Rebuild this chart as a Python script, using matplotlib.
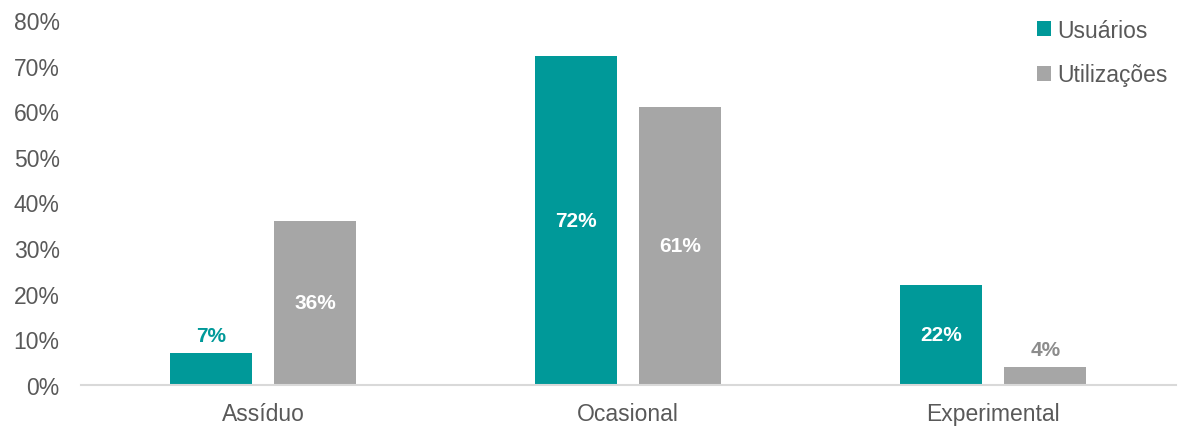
import numpy as np
import matplotlib
matplotlib.use("Agg")
from matplotlib import pyplot as plt

plt.rcParams['font.family'] = ['Liberation Sans', 'DejaVu Sans']

categorias = ["Assíduo", "Ocasional", "Experimental"]
usuarios = [7, 72, 22]
utilizacoes = [36, 61, 4]
series_nomes = ["Usuários", "Utilizações"]

teal = "#009999"
cinza = "#A6A6A6"
texto = "#595959"

fig = plt.figure(figsize=(11.85, 4.27), dpi=100)
ax = fig.add_axes([0.068, 0.096, 0.924, 0.855])

x = np.arange(len(categorias))
w = 0.225
off = 0.143
b1 = ax.bar(x - off, usuarios, w, color=teal, label=series_nomes[0])
b2 = ax.bar(x + off, utilizacoes, w, color=cinza, label=series_nomes[1])

# rótulos: dentro da barra quando cabe, acima quando a barra é baixa
for bars, vals, cor_fora in [(b1, usuarios, teal), (b2, utilizacoes, "#8C8C8C")]:
    for b, v in zip(bars, vals):
        cx = b.get_x() + b.get_width() / 2
        if v >= 10:
            ax.text(cx, v / 2, f"{v}%", ha="center", va="center",
                    color="white", fontsize=15, fontweight="bold")
        else:
            ax.text(cx, v + 1.8, f"{v}%", ha="center", va="bottom",
                    color=cor_fora, fontsize=15, fontweight="bold")

ax.set_xlim(-0.5, 2.5)
ax.set_ylim(0, 80)
ax.set_yticks(np.arange(0, 81, 10))
ax.set_yticklabels([f"{t}%" for t in range(0, 81, 10)])
ax.set_xticks(x)
ax.set_xticklabels(categorias)
ax.tick_params(axis="both", length=0, labelsize=16.5, colors=texto)
ax.tick_params(axis="x", pad=12)
ax.tick_params(axis="y", pad=15)

for s in ["top", "right", "left"]:
    ax.spines[s].set_visible(False)
ax.spines["bottom"].set_color("#D9D9D9")
ax.spines["bottom"].set_linewidth(1.5)

leg = ax.legend(loc="upper right", bbox_to_anchor=(1.012, 1.06), frameon=False,
                fontsize=16.5, handlelength=0.6, handleheight=0.6,
                handletextpad=0.3, labelspacing=0.95)
for t in leg.get_texts():
    t.set_color(texto)

fig.savefig("out.png", dpi=100)
